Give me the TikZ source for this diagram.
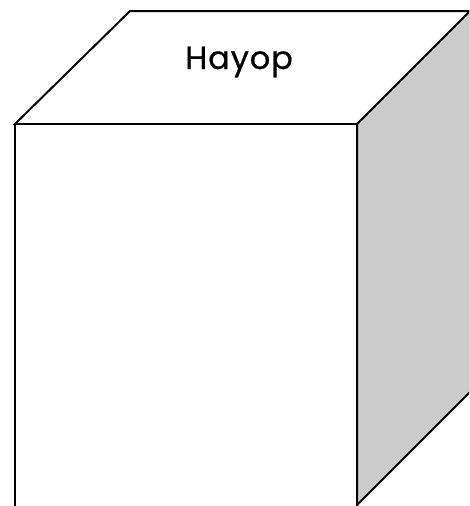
\documentclass[tikz,border=0pt]{standalone}
\usepackage{fontspec}
\setmainfont{Poppins}
\definecolor{sidegray}{HTML}{CCCCCC}
\begin{document}
\begin{tikzpicture}[x=1pt,y=-1pt,
  edge/.style={draw=black,line width=2pt,line join=miter},
  label/.style={font=\fontsize{32}{38}\selectfont,inner sep=0pt,anchor=base}]
\useasboundingbox (0,0) rectangle (469,506);
\clip (0,0) rectangle (469,506);
% right face
\path[edge,fill=sidegray] (357,124) -- (470,11) -- (470,392) -- (357,505) -- cycle;
% top face
\path[edge,fill=white] (15,124) -- (130,11) -- (470,11) -- (357,124) -- cycle;
% front face
\path[edge,fill=white] (15,124) -- (357,124) -- (357,520) -- (15,520) -- cycle;
\node[label] (title) at (239,69) {\addfontfeature{LetterSpace=3,FakeBold=0.6}Hayop};
\end{tikzpicture}
\end{document}
